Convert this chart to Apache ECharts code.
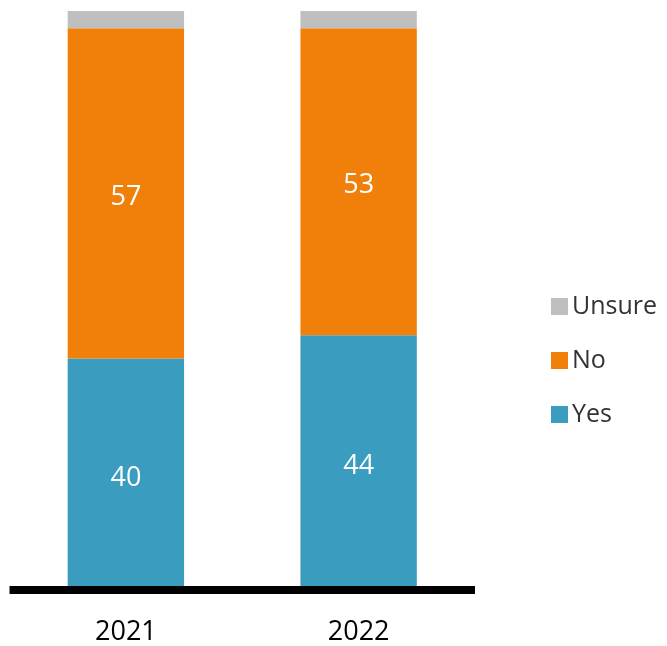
<!DOCTYPE html>
<html>
<head>
<meta charset="utf-8">
<script src="https://cdn.jsdelivr.net/npm/echarts@6/dist/echarts.min.js"></script>
<style>
  html, body { margin: 0; padding: 0; background: #fff; }
  #chart { width: 667px; height: 646px; }
</style>
</head>
<body>
<div id="chart"></div>
<script>
// Survey answers by year (percent of respondents)
const years = ['2021', '2022'];
const yesValues = [40, 44];
const noValues = [57, 53];
const unsureValues = [3, 3];
const legendOrder = ['Unsure', 'No', 'Yes'];

const FONT = 'Open Sans';

const chart = echarts.init(document.getElementById('chart'), null, { renderer: 'canvas' });

const labelStyle = {
  show: true,
  position: 'inside',
  offset: [0, 4],
  color: '#ffffff',
  fontFamily: FONT,
  fontSize: 27
};

chart.setOption({
  animation: false,
  textStyle: { fontFamily: FONT },
  grid: { left: 9.5, right: 192, top: 11, bottom: 55.5, containLabel: false },
  legend: {
    data: legendOrder,
    orient: 'vertical',
    left: 546,
    top: 289,
    itemWidth: 17,
    itemHeight: 17,
    itemGap: 29,
    icon: 'rect',
    textStyle: { fontFamily: FONT, fontSize: 25, color: '#333333', padding: [0, 0, 0, -1] }
  },
  xAxis: {
    type: 'category',
    data: years,
    z: 10,
    axisLine: { show: true, lineStyle: { color: '#000000', width: 8, cap: 'butt' } },
    axisTick: { show: false },
    axisLabel: { color: '#000000', fontFamily: FONT, fontSize: 27, margin: 29 }
  },
  yAxis: {
    type: 'value',
    min: 0,
    max: 100,
    show: false,
    splitLine: { show: false }
  },
  series: [
    {
      name: 'Yes', type: 'bar', stack: 'total', barWidth: '50%',
      data: yesValues,
      itemStyle: { color: '#3A9DBF' },
      label: labelStyle
    },
    {
      name: 'No', type: 'bar', stack: 'total', barWidth: '50%',
      data: noValues,
      itemStyle: { color: '#F0800A' },
      label: labelStyle
    },
    {
      name: 'Unsure', type: 'bar', stack: 'total', barWidth: '50%',
      data: unsureValues,
      itemStyle: { color: '#BFBFBF' },
      label: { show: false }
    }
  ]
});
</script>
</body>
</html>
